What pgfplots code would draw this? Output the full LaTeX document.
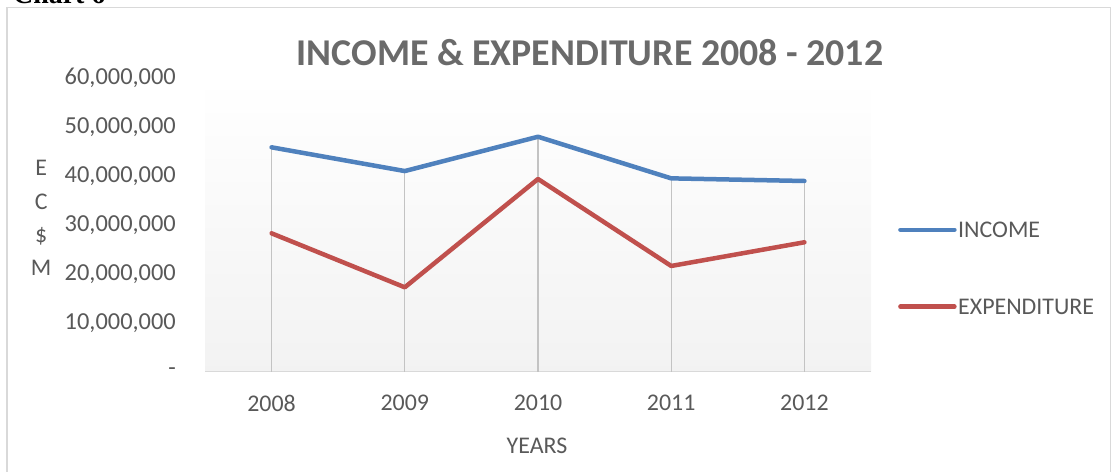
\documentclass[border=0pt]{standalone}
\usepackage{fontspec}
\setmainfont{Carlito}
\newfontfamily\chartserif{Liberation Serif}
\usepackage{pgfplots}
\usepackage{pgfplotstable}
\pgfplotsset{compat=1.18}

\definecolor{incomeblue}{HTML}{4F81BD}
\definecolor{expred}{HTML}{C0504D}
\definecolor{txtgray}{HTML}{595959}
\definecolor{titlegray}{HTML}{6A6A6A}
\definecolor{linegray}{HTML}{D9D9D9}

% values (EC$)
\pgfplotstableread{
x y
0 45840000
1 40990000
2 48000000
3 39500000
4 38960000
}\income
\pgfplotstableread{
x y
0 28270000
1 17240000
2 39370000
3 21600000
4 26440000
}\expenditure

\begin{document}
\begin{tikzpicture}
\begin{axis}[
  at={(205bp,-371.7bp)}, anchor=south west,
  scale only axis, width=666bp, height=293.7bp,
  xmin=-0.5, xmax=4.5, ymin=0, ymax=60000000,
  clip=false,
  xtick={0,1,2,3,4},
  xticklabels={2008,2009,2010,2011,2012},
  ytick={0,10000000,20000000,30000000,40000000,50000000,60000000},
  yticklabels={{-\hspace{12bp}},{10,000,000},{20,000,000},{30,000,000},{40,000,000},{50,000,000},{60,000,000}},
  scaled y ticks=false,
  /pgf/number format/assume math mode=true,
  axis x line*=bottom, axis y line*=left,
  x axis line style={linegray, line width=1.5bp, -},
  y axis line style={draw=none},
  major tick length=0pt, tick style={draw=none},
  axis background/.style={top color=white, bottom color=black!5},
  ticklabel style={font=\fontsize{24}{29}\selectfont, text=txtgray, inner sep=0pt},
  xticklabel style={anchor=north, yshift=-23bp},
  yticklabel style={anchor=east, xshift=-29bp, font=\fontsize{24.5}{29}\selectfont},
  title={INCOME \& EXPENDITURE 2008 - 2012},
  title style={at={(axis description cs:0.578,1.112)}, anchor=north, inner sep=0pt,
    font=\bfseries\fontsize{38}{42}\selectfont, text=titlegray},
  xlabel={YEARS},
  xlabel style={at={(axis description cs:0.4985,-0.2257)}, anchor=north, inner sep=0pt,
    font=\fontsize{24}{29}\selectfont, text=txtgray},
  ylabel={E\\C\\\$\\M},
  ylabel style={at={(axis description cs:-0.246,0.523)}, rotate=-90, anchor=center,
    align=center, inner sep=0pt, font=\fontsize{24}{33.6}\selectfont, text=txtgray},
  legend image code/.code={\draw[#1, line width=4.5bp, line cap=round] (0bp,1bp) -- (54bp,1bp);},
  legend cell align=left,
  legend style={at={(axis description cs:1.0405,0.349)}, anchor=west, draw=none, fill=none,
    inner sep=0pt, row sep=60bp, /tikz/column sep=1.5bp, nodes={inner sep=0pt},
    font=\fontsize{24}{29}\selectfont, text=txtgray},
]
% drop lines from the top series to the axis
\addplot[ycomb, linegray!90!black, line width=1.3bp, forget plot] table {\income};
\addplot[incomeblue, line width=4.5bp, line join=round, line cap=round] table {\income};
\addlegendentry{INCOME}
\addplot[expred, line width=4.5bp, line join=round, line cap=round] table {\expenditure};
\addlegendentry{EXPENDITURE}
\end{axis}

% chart area border and caption cut off by the page edge, as in the source
\draw[linegray, line width=1.5bp] (7bp,-7.5bp) rectangle (1110.5bp,-520bp);
\node[anchor=base west, inner sep=0pt, font=\chartserif\bfseries\fontsize{28}{30}\selectfont]
  at (13bp,-3bp) {Chart 6};

\pgfresetboundingbox
\path[use as bounding box] (0bp,0bp) rectangle (1111bp,-472bp);
\end{tikzpicture}
\end{document}
